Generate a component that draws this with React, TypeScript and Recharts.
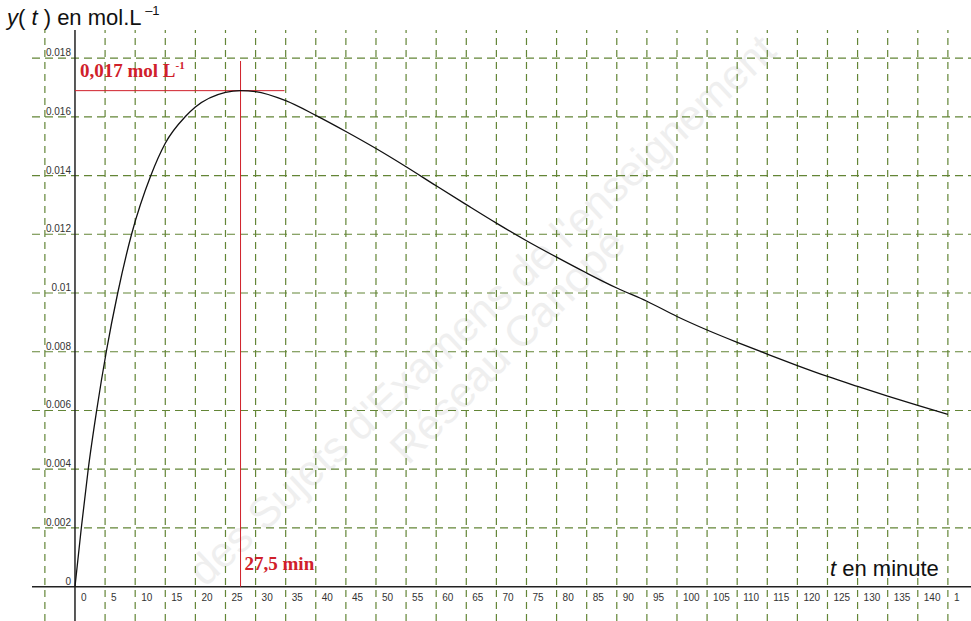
import { ComposedChart, Line, XAxis, YAxis, ReferenceLine, ReferenceDot } from "recharts";

// concentration y(t)
const times = [0, 1.05, 2.2, 3.6, 5.2, 7.1, 9.4, 12.6, 15, 18.3, 20, 25, 27.5, 30, 35, 40, 45, 50, 55, 60, 65, 70, 75, 80, 85, 90, 95, 100, 105, 110, 115, 120, 125, 130, 135, 140, 145];
const conc = [0, 0.002, 0.004, 0.006, 0.008, 0.01, 0.012, 0.014, 0.0151, 0.016, 0.01633, 0.01683, 0.01689, 0.01686, 0.01655, 0.01605, 0.0155, 0.01492, 0.0143, 0.01365, 0.01301, 0.01238, 0.01178, 0.01122, 0.01068, 0.01017, 0.00972, 0.0092, 0.00874, 0.00832, 0.00792, 0.00753, 0.00716, 0.00682, 0.00649, 0.00617, 0.00587];

const xTicks = [0, 5, 10, 15, 20, 25, 30, 35, 40, 45, 50, 55, 60, 65, 70, 75, 80, 85, 90, 95, 100, 105, 110, 115, 120, 125, 130, 135, 140, 145];
const xTickLabels = ["0", "5", "10", "15", "20", "25", "30", "35", "40", "45", "50", "55", "60", "65", "70", "75", "80", "85", "90", "95", "100", "105", "110", "115", "120", "125", "130", "135", "140", "1"];
const yTicks = [0, 0.002, 0.004, 0.006, 0.008, 0.01, 0.012, 0.014, 0.016, 0.018];
const yTickLabels = ["0", "0.002", "0.004", "0.006", "0.008", "0.01", "0.012", "0.014", "0.016", "0.018"];
const xGrid = [-5, 5, 10, 15, 20, 25, 30, 35, 40, 45, 50, 55, 60, 65, 70, 75, 80, 85, 90, 95, 100, 105, 110, 115, 120, 125, 130, 135, 140, 145];
const yGrid = [0.002, 0.004, 0.006, 0.008, 0.01, 0.012, 0.014, 0.016, 0.018];

const tMax = 27.5;
const yMax = 0.01689;
const hLineEnd = 34.8;
const vLineTop = 0.0179;

const data = times.map((t, i) => ({ t, v: conc[i] }));

const GRID = "#638536";
const RED = "#d0202a";

const App = () => {
  return (
    <div style={{ position: "absolute", left: 0, top: 0, width: 971, height: 621 }}>
      {/* watermark */}
      <svg width={971} height={621} style={{ position: "absolute", left: 0, top: 0 }}>
        <g fill="#efefef" fontFamily="Liberation Sans" fontSize={43}>
          <text x={205} y={588} transform="rotate(-43 205 588)">
            des Sujets d'Examens de l'enseignement
          </text>
          <text x={518} y={356} textAnchor="middle" transform="rotate(-45 518 356)">
            Réseau Canopé
          </text>
        </g>
      </svg>
      <div style={{ position: "absolute", left: 0, top: 0 }}>
        <ComposedChart width={971} height={621} data={data} margin={{ top: 30, right: 0, bottom: 0, left: 32 }}>
          <XAxis dataKey="t" type="number" domain={[-7.14, 148.84]} allowDataOverflow hide />
          <YAxis dataKey="v" type="number" domain={[-0.001168, 0.018955]} allowDataOverflow hide />

          {xGrid.map((x) => (
            <ReferenceLine key={"gx" + x} x={x} stroke={GRID} strokeWidth={1.2} strokeDasharray="7 5" />
          ))}
          {yGrid.map((y) => (
            <ReferenceLine key={"gy" + y} y={y} stroke={GRID} strokeWidth={1.2} strokeDasharray="8 5" />
          ))}

          <ReferenceLine y={0} stroke="#222" strokeWidth={1.5} />
          <ReferenceLine x={0} stroke="#222" strokeWidth={1.5} />

          <ReferenceLine segment={[{ x: 0, y: yMax }, { x: hLineEnd, y: yMax }]} stroke={RED} strokeWidth={1} />
          <ReferenceLine segment={[{ x: tMax, y: 0 }, { x: tMax, y: vLineTop }]} stroke={RED} strokeWidth={1} />

          {xTicks.map((t, i) => (
            <ReferenceDot
              key={"xt" + t}
              x={t}
              y={0}
              shape={(p: any) => (
                <text x={p.cx + 6} y={p.cy + 14} fontSize={10} fontFamily="Liberation Sans" fill="#333">
                  {xTickLabels[i]}
                </text>
              )}
            />
          ))}
          {yTicks.map((v, i) => (
            <ReferenceDot
              key={"yt" + v}
              x={0}
              y={v}
              shape={(p: any) => (
                <text x={p.cx - 4} y={p.cy - 2} textAnchor="end" fontSize={10} fontFamily="Liberation Sans" fill="#333">
                  {yTickLabels[i]}
                </text>
              )}
            />
          ))}

          <ReferenceDot
            x={0}
            y={yMax}
            shape={(p: any) => (
              <text x={p.cx + 5} y={p.cy - 14} fontSize={19} fontWeight="bold" fontFamily="Liberation Serif" fill={RED}>
                0,017 mol L<tspan fontSize={11} dy={-8}>-1</tspan>
              </text>
            )}
          />
          <ReferenceDot
            x={tMax}
            y={0}
            shape={(p: any) => (
              <text x={p.cx + 4} y={p.cy - 17} fontSize={19} fontWeight="bold" fontFamily="Liberation Serif" fill={RED}>
                27,5 min
              </text>
            )}
          />

          <Line type="monotone" dataKey="v" stroke="#111" strokeWidth={1.3} dot={false} isAnimationActive={false} />
        </ComposedChart>
      </div>
      <svg width={971} height={621} style={{ position: "absolute", left: 0, top: 0, pointerEvents: "none" }}>
        <text x={7} y={25} fontSize={22} fontFamily="Liberation Sans" fill="#111">
          <tspan fontStyle="italic">y</tspan>( <tspan fontStyle="italic">t</tspan> ) en mol.L
          <tspan fontSize={13} dy={-10}> –1</tspan>
        </text>
        <text x={830} y={576} fontSize={22} fontFamily="Liberation Sans" fill="#111">
          <tspan fontStyle="italic">t</tspan> en minute
        </text>
      </svg>
    </div>
  );
};

export default App;
